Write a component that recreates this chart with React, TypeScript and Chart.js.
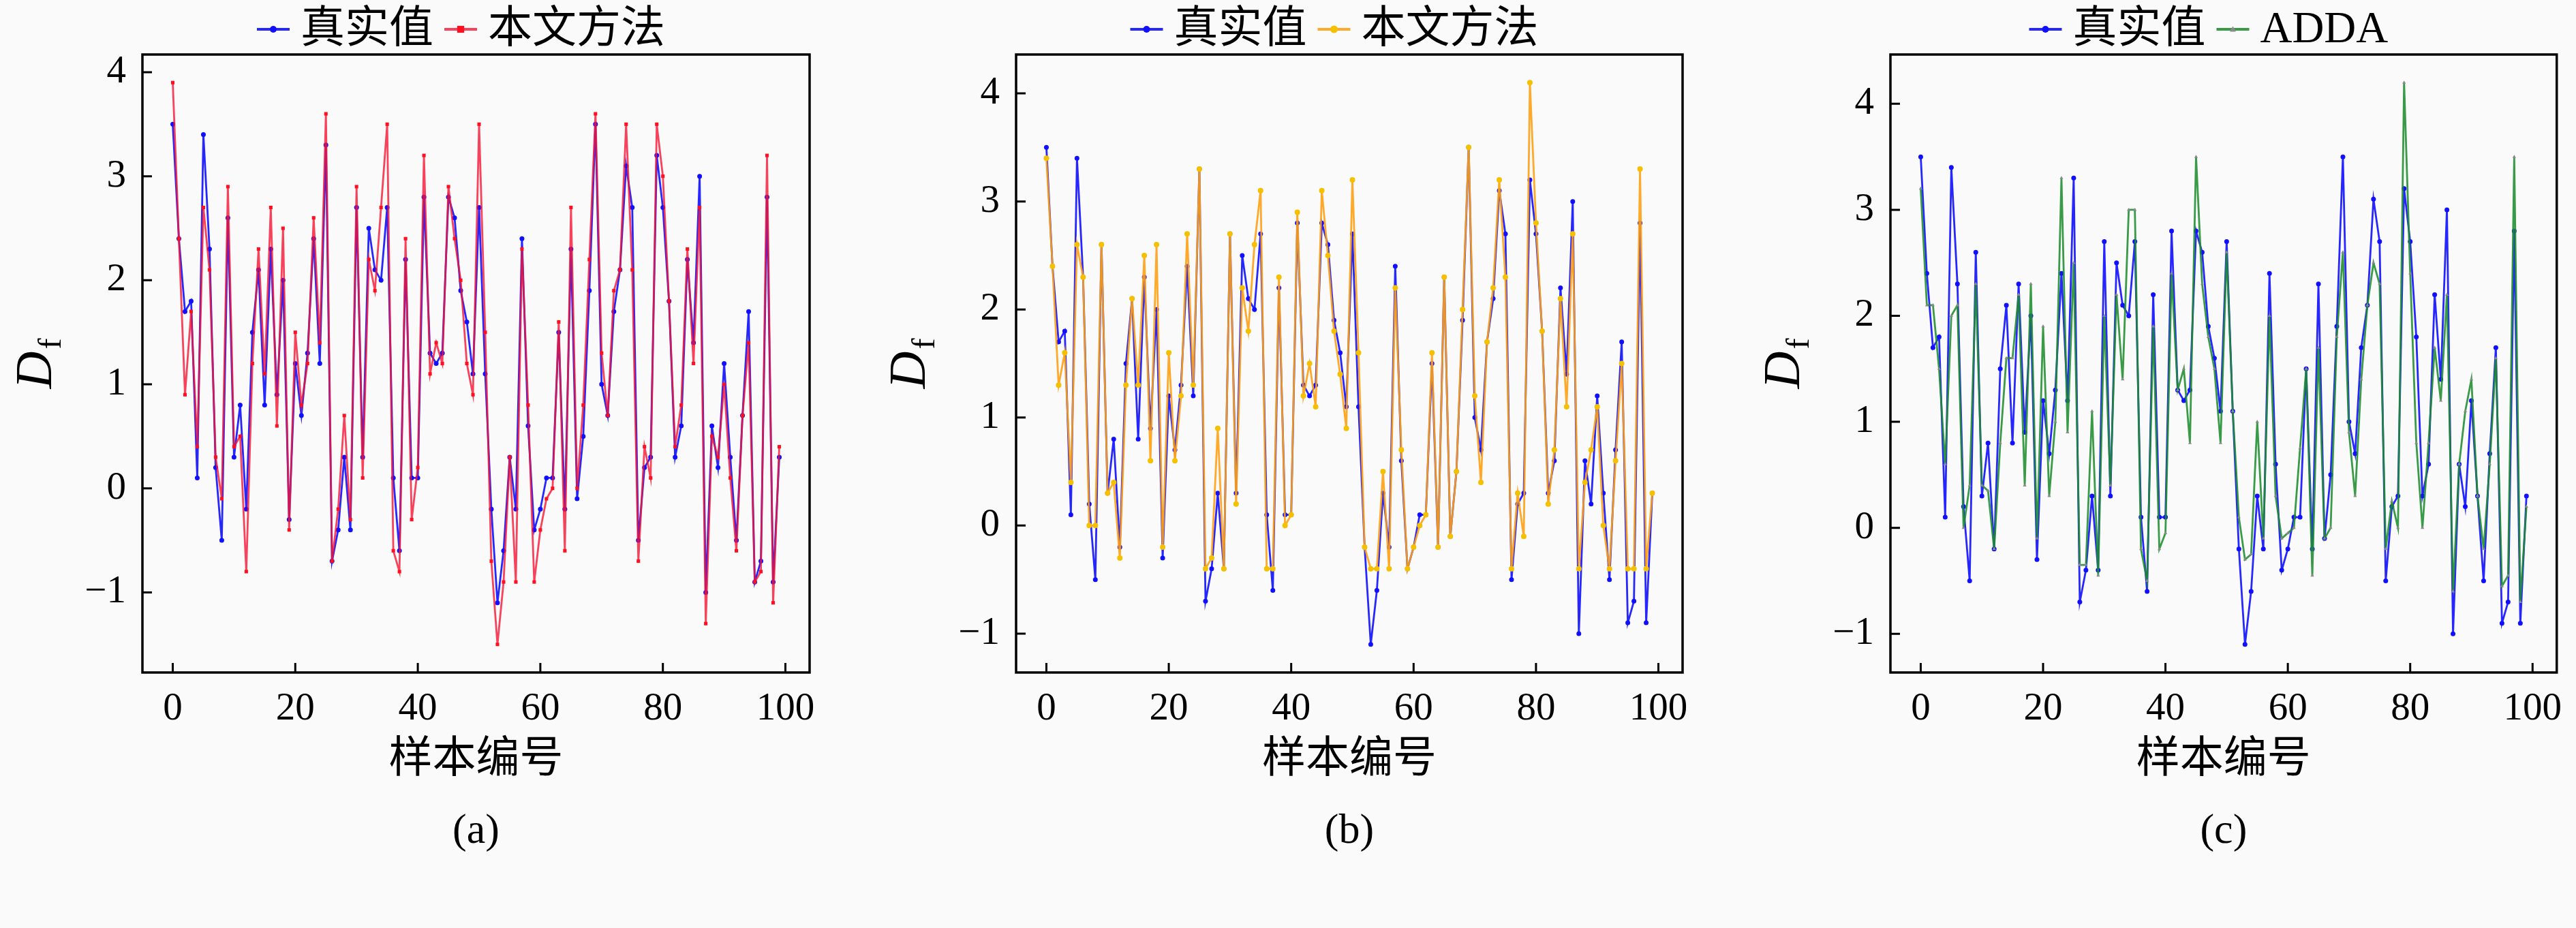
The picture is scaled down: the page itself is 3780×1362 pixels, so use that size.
import { useEffect, useRef } from 'react'
import { Chart, registerables } from 'chart.js'

Chart.register(...registerables)

// sample numbers on the x axis
const sampleIds = [
  0, 1, 2, 3, 4, 5, 6, 7, 8, 9, 10, 11, 12, 13, 14, 15, 16, 17, 18, 19,
  20, 21, 22, 23, 24, 25, 26, 27, 28, 29, 30, 31, 32, 33, 34, 35, 36, 37, 38, 39,
  40, 41, 42, 43, 44, 45, 46, 47, 48, 49, 50, 51, 52, 53, 54, 55, 56, 57, 58, 59,
  60, 61, 62, 63, 64, 65, 66, 67, 68, 69, 70, 71, 72, 73, 74, 75, 76, 77, 78, 79,
  80, 81, 82, 83, 84, 85, 86, 87, 88, 89, 90, 91, 92, 93, 94, 95, 96, 97, 98, 99,
]
const xTicks = [0, 20, 40, 60, 80, 100]
const yTicks = [-1, 0, 1, 2, 3, 4]

// 真实值 (same in all three panels)
const trueValues = [
  3.5, 2.4, 1.7, 1.8, 0.1, 3.4, 2.3, 0.2, -0.5, 2.6,
  0.3, 0.8, -0.2, 1.5, 2.1, 0.8, 2.3, 0.9, 2.0, -0.3,
  1.2, 0.7, 1.3, 2.4, 1.2, 3.3, -0.7, -0.4, 0.3, -0.4,
  2.7, 0.3, 2.5, 2.1, 2.0, 2.7, 0.1, -0.6, 2.2, 0.1,
  0.1, 2.8, 1.3, 1.2, 1.3, 2.8, 2.6, 1.9, 1.6, 1.1,
  2.7, 1.1, -0.2, -1.1, -0.6, 0.3, -0.2, 2.4, 0.6, -0.4,
  -0.2, 0.1, 0.1, 1.5, -0.2, 2.3, -0.1, 0.5, 1.9, 3.5,
  1.0, 0.7, 1.7, 2.1, 3.1, 2.7, -0.5, 0.2, 0.3, 3.2,
  2.7, 1.8, 0.3, 0.6, 2.2, 1.4, 3.0, -1.0, 0.6, 0.2,
  1.2, 0.3, -0.5, 0.7, 1.7, -0.9, -0.7, 2.8, -0.9, 0.3,
]

// 本文方法, panel (a)
const oursA = [
  3.9, 2.4, 0.9, 1.7, 0.4, 2.7, 2.1, 0.3, -0.1, 2.9,
  0.4, 0.5, -0.8, 1.2, 2.3, 1.1, 2.7, 0.6, 2.5, -0.4,
  1.5, 0.8, 1.2, 2.6, 1.4, 3.6, -0.7, -0.2, 0.7, -0.3,
  2.9, 0.1, 2.2, 1.9, 2.7, 3.5, -0.6, -0.8, 2.4, -0.3,
  0.2, 3.2, 1.1, 1.4, 1.2, 2.9, 2.4, 2.0, 1.2, 0.9,
  3.5, 1.5, -0.7, -1.5, -0.9, 0.3, -0.9, 2.3, 0.8, -0.9,
  -0.4, -0.1, 0.0, 1.6, -0.6, 2.7, 0.0, 0.8, 2.2, 3.6,
  1.3, 0.7, 1.9, 2.1, 3.5, 2.1, -0.7, 0.4, 0.1, 3.5,
  3.0, 1.8, 0.4, 0.8, 2.3, 1.2, 2.7, -1.3, 0.5, 0.3,
  1.0, 0.1, -0.6, 0.7, 1.4, -0.9, -0.8, 3.2, -1.1, 0.4,
]

// 本文方法, panel (b)
const oursB = [
  3.4, 2.4, 1.3, 1.6, 0.4, 2.6, 2.3, 0.0, 0.0, 2.6,
  0.3, 0.4, -0.3, 1.3, 2.1, 1.3, 2.5, 0.6, 2.6, -0.2,
  1.6, 0.6, 1.2, 2.7, 1.3, 3.3, -0.4, -0.3, 0.9, -0.4,
  2.7, 0.2, 2.2, 1.8, 2.6, 3.1, -0.4, -0.4, 2.3, 0.0,
  0.1, 2.9, 1.2, 1.5, 1.1, 3.1, 2.5, 1.8, 1.4, 0.9,
  3.2, 1.6, -0.2, -0.4, -0.4, 0.5, -0.4, 2.2, 0.7, -0.4,
  -0.2, 0.0, 0.1, 1.6, -0.2, 2.3, -0.1, 0.5, 2.0, 3.5,
  1.2, 0.4, 1.7, 2.2, 3.2, 2.3, -0.4, 0.3, -0.1, 4.1,
  2.8, 1.8, 0.2, 0.7, 2.1, 1.1, 2.7, -0.4, 0.4, 0.7,
  1.1, 0.0, -0.4, 0.6, 1.5, -0.4, -0.4, 3.3, -0.4, 0.3,
]

// ADDA, panel (c)
const addaC = [
  3.2, 2.1, 2.1, 1.5, 0.6, 2.0, 2.1, 0.0, 0.4, 2.3,
  0.4, 0.35, -0.2, 0.8, 1.6, 1.6, 2.2, 0.4, 2.3, -0.1,
  1.9, 0.3, 1.0, 3.3, 0.9, 2.5, -0.35, -0.35, 1.1, -0.45,
  2.0, 0.4, 2.2, 1.4, 3.0, 3.0, -0.2, -0.5, 1.9, -0.2,
  -0.05, 2.4, 1.3, 1.5, 0.8, 3.5, 2.3, 1.8, 1.5, 0.8,
  2.6, 1.1, 0.1, -0.3, -0.25, 1.0, -0.1, 2.0, 0.3, -0.1,
  -0.05, 0.0, 0.75, 1.5, -0.45, 1.7, -0.1, 0.0, 1.8, 2.6,
  0.9, 0.3, 1.4, 2.1, 2.5, 2.3, -0.2, 0.25, 0.0, 4.2,
  2.4, 0.8, 0.0, 0.8, 1.7, 1.2, 2.2, -0.6, 0.6, 1.1,
  1.4, 0.3, -0.2, 0.6, 1.6, -0.55, -0.45, 3.5, -0.7, 0.2,
]

const SERIF = '"Liberation Serif", "Noto Sans CJK SC", serif'

interface SeriesStyle {
  line: string
  point: string
  shape: 'circle' | 'rect' | 'triangle'
  radius: number
}

const trueStyle: SeriesStyle = { line: 'rgba(0, 0, 255, 0.85)', point: '#1010ff', shape: 'circle', radius: 3.5 }

function drawMarker(ctx: CanvasRenderingContext2D, s: SeriesStyle, x: number, y: number, r: number) {
  ctx.fillStyle = s.point
  ctx.beginPath()
  if (s.shape === 'rect') {
    ctx.rect(x - r, y - r, 2 * r, 2 * r)
  } else if (s.shape === 'triangle') {
    ctx.moveTo(x, y - r)
    ctx.lineTo(x + r, y + r * 0.8)
    ctx.lineTo(x - r, y + r * 0.8)
    ctx.closePath()
  } else {
    ctx.arc(x, y, r, 0, Math.PI * 2)
  }
  ctx.fill()
}

const panelDecor = {
  id: 'panelDecor',
  afterDraw(chart: any, _args: any, opts: any) {
    const { ctx, chartArea: area } = chart
    const xs = chart.scales.x
    const ys = chart.scales.y
    const midX = (area.left + area.right) / 2
    ctx.save()

    // inward ticks
    ctx.strokeStyle = '#000'
    ctx.lineWidth = 3
    ctx.beginPath()
    xTicks.forEach(v => {
      const px = xs.getPixelForValue(v)
      ctx.moveTo(px, area.bottom)
      ctx.lineTo(px, area.bottom - 14)
    })
    yTicks.forEach(v => {
      const py = ys.getPixelForValue(v)
      ctx.moveTo(area.left, py)
      ctx.lineTo(area.left + 14, py)
    })
    ctx.stroke()

    // frame
    ctx.lineWidth = 3.5
    ctx.strokeRect(area.left, area.top, area.right - area.left, area.bottom - area.top)

    // y title D_f
    ctx.save()
    ctx.translate(area.left - 160, (area.top + area.bottom) / 2)
    ctx.rotate(-Math.PI / 2)
    ctx.fillStyle = '#000'
    ctx.textBaseline = 'alphabetic'
    ctx.textAlign = 'left'
    ctx.font = `italic 76px ${SERIF}`
    const dW = ctx.measureText('D').width
    ctx.font = `48px ${SERIF}`
    const fW = ctx.measureText('f').width
    const start = -(dW + 3 + fW) / 2
    ctx.font = `italic 76px ${SERIF}`
    ctx.fillText('D', start, 26)
    ctx.font = `48px ${SERIF}`
    ctx.fillText('f', start + dW + 3, 40)
    ctx.restore()

    // legend: line handle with a marker in the middle
    const items: { label: string; style: SeriesStyle }[] = opts.items
    ctx.font = `65px ${SERIF}`
    const handle = 48
    const gap = 16
    const widths = items.map(it => ctx.measureText(it.label).width)
    const total = widths.reduce((s, w) => s + handle + gap + w, 0) + gap * (items.length - 1)
    let x = midX - total / 2 - 22
    const ly = 43
    items.forEach((it, k) => {
      ctx.strokeStyle = it.style.line
      ctx.lineWidth = 4
      ctx.beginPath()
      ctx.moveTo(x, ly)
      ctx.lineTo(x + handle, ly)
      ctx.stroke()
      drawMarker(ctx, it.style, x + handle / 2, ly, it.style.radius + 1.5)
      ctx.fillStyle = '#000'
      ctx.textAlign = 'left'
      ctx.textBaseline = 'middle'
      ctx.font = `65px ${SERIF}`
      ctx.fillText(it.label, x + handle + gap, ly + 2)
      x += handle + gap + widths[k] + gap
    })

    // caption
    ctx.fillStyle = '#000'
    ctx.textAlign = 'center'
    ctx.textBaseline = 'middle'
    ctx.font = `62px ${SERIF}`
    ctx.fillText(opts.caption, midX, 1221)
    ctx.restore()
  },
}

interface PanelProps {
  caption: string
  methodName: string
  methodValues: number[]
  methodStyle: SeriesStyle
  plotLeft: number
  plotRight: number
}

function Panel({ caption, methodName, methodValues, methodStyle, plotLeft, plotRight }: PanelProps) {
  const chartRef = useRef<HTMLCanvasElement>(null)
  const chartInstance = useRef<Chart | null>(null)

  useEffect(() => {
    if (!chartRef.current) return
    if (chartInstance.current) {
      chartInstance.current.destroy()
    }
    const ctx = chartRef.current.getContext('2d')
    if (!ctx) return

    // matplotlib-like 5% margins around the data
    const all = [...trueValues, ...methodValues]
    const lo = Math.min(...all)
    const hi = Math.max(...all)
    const pad = (hi - lo) * 0.05
    const xPad = (sampleIds[sampleIds.length - 1] - sampleIds[0]) * 0.05

    const toPoints = (vals: number[]) => vals.map((y, i) => ({ x: sampleIds[i], y }))

    chartInstance.current = new Chart(ctx, {
      type: 'line',
      data: {
        datasets: [
          {
            label: '真实值',
            data: toPoints(trueValues),
            borderColor: trueStyle.line,
            borderWidth: 2.8,
            pointStyle: trueStyle.shape,
            pointRadius: trueStyle.radius,
            pointBackgroundColor: trueStyle.point,
            pointBorderColor: trueStyle.point,
            pointBorderWidth: 0,
            tension: 0,
            order: 2,
          },
          {
            label: methodName,
            data: toPoints(methodValues),
            borderColor: methodStyle.line,
            borderWidth: 2.8,
            pointStyle: methodStyle.shape,
            pointRadius: methodStyle.radius,
            pointBackgroundColor: methodStyle.point,
            pointBorderColor: methodStyle.point,
            pointBorderWidth: 0,
            tension: 0,
            order: 1,
          },
        ],
      },
      options: {
        responsive: false,
        animation: false,
        devicePixelRatio: 1,
        events: [],
        layout: {
          padding: { top: 80, left: 0, right: 1260 - plotRight, bottom: 0 },
        },
        plugins: {
          legend: { display: false },
          tooltip: { enabled: false },
          panelDecor: {
            caption,
            items: [
              { label: '真实值', style: trueStyle },
              { label: methodName, style: methodStyle },
            ],
          },
        } as any,
        scales: {
          x: {
            type: 'linear',
            min: sampleIds[0] - xPad,
            max: sampleIds[sampleIds.length - 1] + xPad,
            grid: { display: false, drawTicks: false },
            border: { display: false },
            afterBuildTicks: (s: any) => {
              s.ticks = xTicks.map(value => ({ value }))
            },
            afterFit: (s: any) => {
              s.height = 375
            },
            ticks: {
              color: '#000',
              padding: 20,
              maxRotation: 0,
              font: { family: SERIF, size: 57 },
            },
            title: {
              display: true,
              text: '样本编号',
              color: '#000',
              font: { family: SERIF, size: 64 },
              padding: { top: 0, bottom: 207 },
            },
          },
          y: {
            type: 'linear',
            min: lo - pad,
            max: hi + pad,
            grid: { display: false, drawTicks: false },
            border: { display: false },
            afterBuildTicks: (s: any) => {
              s.ticks = yTicks.map(value => ({ value }))
            },
            afterFit: (s: any) => {
              s.width = plotLeft
            },
            ticks: {
              color: '#000',
              padding: 24,
              font: { family: SERIF, size: 57 },
              callback: (v: any) => String(v).replace('-', '\u2212'),
            },
          },
        },
      },
      plugins: [panelDecor],
    })

    return () => {
      if (chartInstance.current) {
        chartInstance.current.destroy()
        chartInstance.current = null
      }
    }
  }, [caption, methodName, methodValues, methodStyle, plotLeft, plotRight])

  return (
    <canvas
      ref={chartRef}
      width={1260}
      height={1362}
      style={{ width: 1260, height: 1362, display: 'block' }}
    />
  )
}

const redStyle: SeriesStyle = { line: 'rgba(245, 20, 50, 0.8)', point: '#ff1020', shape: 'rect', radius: 3.6 }
const orangeStyle: SeriesStyle = { line: 'rgba(255, 160, 20, 0.9)', point: '#f5c000', shape: 'circle', radius: 4 }
const greenStyle: SeriesStyle = { line: 'rgba(30, 140, 45, 0.88)', point: '#8a8a8a', shape: 'triangle', radius: 3 }

export default function App() {
  return (
    <div
      style={{
        position: 'fixed',
        left: 0,
        top: 0,
        width: 3780,
        height: 1362,
        display: 'flex',
        background: '#fafafa',
      }}
    >
      <Panel caption="(a)" methodName="本文方法" methodValues={oursA} methodStyle={redStyle} plotLeft={209} plotRight={1188} />
      <Panel caption="(b)" methodName="本文方法" methodValues={oursB} methodStyle={orangeStyle} plotLeft={231} plotRight={1209} />
      <Panel caption="(c)" methodName="ADDA" methodValues={addaC} methodStyle={greenStyle} plotLeft={254} plotRight={1233} />
    </div>
  )
}
